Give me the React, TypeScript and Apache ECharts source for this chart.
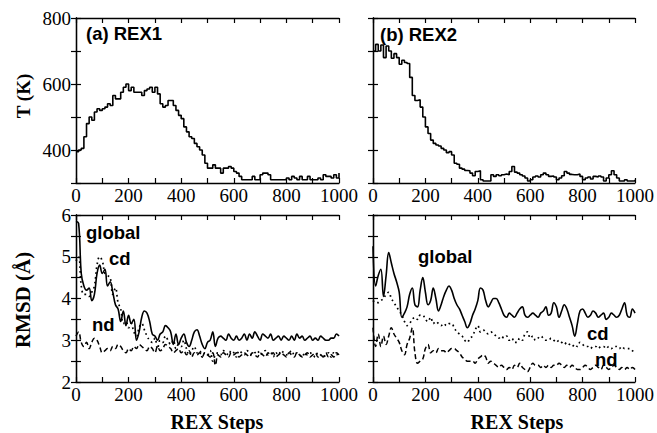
import React, { useEffect, useRef } from "react";
import * as echarts from "echarts";

// REX step sampling (x positions every 10 steps, 0..1000)
const STEP = 10;

// Temperature (K), replica exchange REX1 and REX2
const T_REX1 = [
  395, 400, 405, 440, 480, 500, 490, 515, 525, 520,
  525, 530, 540, 535, 565, 555, 555, 575, 590, 600,
  580, 590, 575, 575, 575, 565, 580, 585, 590, 575,
  590, 570, 540, 530, 535, 550, 550, 535, 520, 505,
  495, 470, 455, 440, 435, 420, 410, 400, 385, 360,
  345, 345, 355, 345, 345, 330, 345, 345, 350, 345,
  335, 330, 320, 310, 310, 310, 310, 320, 310, 310,
  325, 330, 330, 325, 310, 310, 310, 310, 310, 310,
  315, 310, 320, 315, 310, 320, 310, 310, 320, 310,
  310, 310, 315, 310, 325, 320, 320, 315, 325, 315, 330,
];
const T_REX2 = [
  700, 720, 700, 718, 680, 715, 700, 678, 692, 680,
  660, 672, 665, 662, 620, 565, 550, 552, 530, 500,
  470, 450, 430, 420, 415, 412, 405, 400, 392, 395,
  385, 360, 357, 345, 342, 338, 337, 330, 322, 335,
  337, 310, 306, 306, 306, 325, 320, 325, 322, 325,
  327, 325, 335, 350, 333, 330, 325, 321, 315, 306,
  310, 318, 321, 318, 325, 330, 325, 320, 321, 318,
  310, 315, 322, 335, 330, 326, 325, 325, 327, 320,
  310, 315, 318, 312, 320, 318, 321, 318, 306, 315,
  325, 337, 325, 315, 306, 306, 310, 306, 306, 306, 310,
];

// RMSD (Å) for REX1
const GLOBAL_REX1 = [
  5.85, 5.8, 4.6, 4.3, 4.2, 4.25, 3.95, 4.1, 4.6, 4.8,
  4.6, 4.7, 4.3, 4.4, 4.15, 3.85, 3.75, 3.45, 3.7, 3.35,
  3.6, 3.4, 3.5, 3.0, 3.2, 3.55, 3.7, 3.65, 3.45, 3.15,
  3.1, 3.0, 3.15, 3.2, 3.35, 3.3, 3.2, 2.9, 3.15, 2.9,
  3.05, 3.15, 2.95, 2.85, 3.0, 3.2, 3.25, 3.1, 2.9, 2.8,
  2.95, 3.0, 3.2, 2.85, 3.05, 3.1, 3.05, 3.0, 3.15, 3.05,
  3.0, 3.1, 3.0, 3.05, 3.15, 3.0, 3.15, 3.05, 3.2, 3.1,
  3.0, 3.15, 3.1, 3.05, 3.15, 3.0, 3.05, 3.1, 3.0, 3.1,
  3.05, 3.0, 3.1, 3.0, 3.15, 3.05, 3.1, 3.0, 3.05, 3.1,
  3.0, 3.05, 3.0, 3.1, 3.05, 3.0, 3.0, 3.05, 3.05, 3.15, 3.1,
];
const CD_REX1 = [
  4.9, 5.0, 4.3, 4.1, 4.1, 4.05, 4.15, 4.3, 4.8, 5.0,
  4.9, 4.6, 4.55, 4.5, 4.1, 4.25, 3.9, 3.75, 3.4, 3.45,
  3.3, 3.4, 3.2, 3.1, 3.3, 3.4, 3.25, 3.1, 3.0, 2.95,
  3.05, 2.8, 3.0, 2.95, 3.1, 3.0, 2.9, 3.0, 2.8, 2.9,
  2.85, 3.0, 2.8, 2.65, 2.75, 2.85, 2.7, 2.75, 2.6, 2.7,
  2.65, 2.75, 2.5, 2.65, 2.7, 2.65, 2.75, 2.7, 2.65, 2.75,
  2.7, 2.6, 2.75, 2.7, 2.65, 2.75, 2.7, 2.65, 2.7, 2.75,
  2.65, 2.7, 2.75, 2.65, 2.7, 2.6, 2.7, 2.65, 2.75, 2.7,
  2.65, 2.7, 2.75, 2.65, 2.7, 2.65, 2.6, 2.7, 2.65, 2.7,
  2.65, 2.6, 2.7, 2.65, 2.6, 2.65, 2.7, 2.6, 2.7, 2.65, 2.7,
];
const ND_REX1 = [
  3.1, 3.2, 2.95, 2.85, 2.95, 2.8, 2.95, 3.05, 3.0, 2.85,
  2.7, 2.75, 2.8, 2.75, 2.85, 2.8, 2.9, 2.85, 2.75, 2.7,
  2.8, 2.75, 2.85, 2.8, 2.9, 2.85, 2.8, 2.75, 2.85, 2.8,
  2.7, 2.85, 2.75, 2.8, 2.9, 2.85, 2.8, 2.7, 2.75, 2.8,
  2.7, 2.75, 2.65, 2.75, 2.6, 2.7, 2.65, 2.7, 2.6, 2.7,
  2.65, 2.6, 2.7, 2.4, 2.65, 2.6, 2.7, 2.65, 2.6, 2.7,
  2.65, 2.7, 2.6, 2.65, 2.7, 2.65, 2.6, 2.7, 2.65, 2.6,
  2.7, 2.65, 2.6, 2.7, 2.65, 2.7, 2.6, 2.65, 2.7, 2.65,
  2.6, 2.7, 2.65, 2.6, 2.7, 2.65, 2.6, 2.65, 2.7, 2.6,
  2.65, 2.7, 2.6, 2.65, 2.6, 2.7, 2.6, 2.65, 2.6, 2.7, 2.65,
];

// RMSD (Å) for REX2
const GLOBAL_REX2 = [
  5.25, 4.3, 4.55, 4.7, 4.05, 4.55, 5.1, 4.85, 4.6, 4.4,
  4.15, 3.55, 3.65, 3.8, 4.1, 4.25, 3.85, 3.8, 4.2, 4.5,
  4.15, 3.85, 3.95, 4.25, 4.0, 3.7, 3.85, 4.05, 4.2, 4.3,
  4.2, 4.0, 3.85, 3.75, 3.6, 3.45, 3.3, 3.4, 3.6, 3.75,
  3.95, 4.25, 4.2, 3.95, 3.8, 3.9, 4.0, 4.0, 3.9, 3.75,
  3.6, 3.55, 3.65, 3.6, 3.55, 3.65, 3.75, 3.8, 3.6, 3.55,
  3.6, 3.65, 3.6, 3.55, 3.65, 3.7, 3.8, 3.6, 3.65, 3.9,
  3.8, 3.55, 3.7, 3.85, 3.75, 3.55, 3.35, 3.1, 3.4, 3.7,
  3.75, 3.65, 3.55, 3.6, 3.7, 3.65, 3.55, 3.6, 3.65, 3.5,
  3.55, 3.65, 3.6, 3.55, 3.6, 3.75, 3.9, 3.6, 3.55, 3.75, 3.65,
];
const CD_REX2 = [
  3.95, 3.9, 3.9, 3.95, 4.0, 4.1, 4.15, 4.0, 3.9, 3.8,
  3.7, 3.6, 3.45, 3.35, 3.4, 3.5, 3.55, 3.5, 3.6, 3.6,
  3.5, 3.45, 3.55, 3.4, 3.45, 3.4, 3.35, 3.4, 3.35, 3.4,
  3.4, 3.3, 3.2, 3.15, 3.1, 3.0, 2.95, 3.05, 3.1, 3.25,
  3.35, 3.2, 3.25, 3.2, 3.15, 3.2, 3.15, 3.1, 3.05, 3.1,
  3.05, 3.1, 3.0, 3.05, 2.95, 2.95, 3.05, 3.0, 3.15, 3.2,
  3.05, 3.1, 3.0, 3.05, 3.1, 3.05, 3.0, 3.0, 3.05, 3.0,
  2.95, 3.0, 2.95, 2.9, 2.95, 2.9, 2.85, 2.9, 2.85, 2.95,
  2.9, 2.85, 2.85, 2.8, 2.85, 2.85, 2.8, 2.85, 2.85, 2.8,
  2.85, 2.8, 2.85, 2.85, 2.8, 2.85, 2.8, 2.8, 2.8, 2.75, 2.7,
];
const ND_REX2 = [
  3.3, 2.85, 3.15, 2.85, 3.1, 2.9, 3.1, 3.3, 3.15, 3.05,
  2.95, 2.75, 2.65, 2.9, 3.05, 3.3, 2.7, 2.45, 2.5, 2.55,
  2.8, 2.9, 2.7, 2.75, 2.7, 2.8, 2.75, 2.75, 2.7, 2.75,
  2.8, 2.8, 2.75, 2.7, 2.6, 2.55, 2.5, 2.5, 2.5, 2.45,
  2.55, 2.6, 2.65, 2.6, 2.45, 2.5, 2.45, 2.4, 2.35, 2.4,
  2.35, 2.3, 2.35, 2.3, 2.4, 2.35, 2.45, 2.35, 2.3, 2.25,
  2.35, 2.45, 2.4, 2.4, 2.35, 2.4, 2.35, 2.4, 2.35, 2.4,
  2.4, 2.45, 2.4, 2.35, 2.4, 2.35, 2.4, 2.35, 2.3, 2.3,
  2.35, 2.4, 2.35, 2.3, 2.35, 2.4, 2.35, 2.3, 2.4, 2.35,
  2.3, 2.35, 2.4, 2.35, 2.3, 2.35, 2.3, 2.35, 2.3, 2.35, 2.3,
];

const X_LABELS = [0, 200, 400, 600, 800, 1000];
const T_LABELS = [400, 600, 800];
const RMSD_LABELS = [2, 3, 4, 5, 6];

const SERIF = "'Liberation Serif', 'Times New Roman', serif";
const SANS = "'Liberation Sans', Arial, Helvetica, sans-serif";

const toPairs = (vals: number[]) => vals.map((v, i) => [i * STEP, v]);

function buildOption() {
  const grids = [
    { left: 76, top: 18, width: 263, height: 165 },
    { left: 373, top: 18, width: 264, height: 165 },
    { left: 76, top: 215, width: 263, height: 167 },
    { left: 373, top: 215, width: 264, height: 167 },
  ];
  const axisLine = { show: true, lineStyle: { color: "#000", width: 1.3 } };
  const tick = { show: true, inside: true, length: 5, lineStyle: { color: "#000", width: 1.2 } };
  const labelStyle = { color: "#000", fontFamily: SERIF, fontSize: 19 };

  const xAxis: any[] = [];
  const yAxis: any[] = [];
  grids.forEach((_, i) => {
    const base = { type: "value", gridIndex: i, min: 0, max: 1000, interval: 100, splitLine: { show: false }, axisLine, axisTick: tick };
    xAxis.push({
      ...base,
      position: "bottom",
      axisLabel: {
        ...labelStyle,
        margin: 3,
        showMinLabel: true,
        showMaxLabel: true,
        formatter: (v: number) => (X_LABELS.includes(v) ? String(v) : ""),
      },
    });
    xAxis.push({ ...base, position: "top", axisLabel: { show: false } });
    const isT = i < 2;
    const yBase = isT
      ? { min: 300, max: 800, interval: 100 }
      : { min: 2, max: 6, interval: 0.5 };
    const labels = isT ? T_LABELS : RMSD_LABELS;
    const showLabels = i === 0 || i === 2;
    yAxis.push({
      type: "value",
      gridIndex: i,
      ...yBase,
      position: "left",
      splitLine: { show: false },
      axisLine,
      axisTick: tick,
      axisLabel: showLabels
        ? {
            ...labelStyle,
            margin: 5,
            showMinLabel: true,
            showMaxLabel: true,
            formatter: (v: number) => (labels.includes(v) ? String(v) : ""),
          }
        : { show: false },
    });
    yAxis.push({
      type: "value",
      gridIndex: i,
      ...yBase,
      position: "right",
      splitLine: { show: false },
      axisLine,
      axisTick: tick,
      axisLabel: { show: false },
    });
  });

  const lineBase = { type: "line", showSymbol: false, symbol: "none", silent: true };
  const solid = { color: "#000", width: 1.6, type: "solid" };
  const dotted = { color: "#000", width: 1.7, type: [1.7, 3.2] };
  const dashed = { color: "#000", width: 1.5, type: [5, 3] };

  const series: any[] = [
    { ...lineBase, name: "T REX1", xAxisIndex: 0, yAxisIndex: 0, step: "end", data: toPairs(T_REX1), lineStyle: solid },
    { ...lineBase, name: "T REX2", xAxisIndex: 2, yAxisIndex: 2, step: "end", data: toPairs(T_REX2), lineStyle: solid },
    { ...lineBase, name: "global REX1", xAxisIndex: 4, yAxisIndex: 4, smooth: 0.4, data: toPairs(GLOBAL_REX1), lineStyle: solid },
    { ...lineBase, name: "cd REX1", xAxisIndex: 4, yAxisIndex: 4, smooth: 0.4, data: toPairs(CD_REX1), lineStyle: dotted },
    { ...lineBase, name: "nd REX1", xAxisIndex: 4, yAxisIndex: 4, smooth: 0.4, data: toPairs(ND_REX1), lineStyle: dashed },
    { ...lineBase, name: "global REX2", xAxisIndex: 6, yAxisIndex: 6, smooth: 0.4, data: toPairs(GLOBAL_REX2), lineStyle: solid },
    { ...lineBase, name: "cd REX2", xAxisIndex: 6, yAxisIndex: 6, smooth: 0.4, data: toPairs(CD_REX2), lineStyle: dotted },
    { ...lineBase, name: "nd REX2", xAxisIndex: 6, yAxisIndex: 6, smooth: 0.4, data: toPairs(ND_REX2), lineStyle: dashed },
  ];

  const sansText = (text: string, x: number, y: number) => ({
    type: "text",
    x,
    y,
    silent: true,
    style: { text, fill: "#000", font: `bold 18.5px ${SANS}`, textAlign: "left", textVerticalAlign: "middle" },
  });
  const serifTitle = (text: string, x: number, y: number, rotate: boolean, size: number) => ({
    type: "text",
    x,
    y,
    rotation: rotate ? Math.PI / 2 : 0,
    silent: true,
    style: { text, fill: "#000", font: `bold ${size}px ${SERIF}`, textAlign: "center", textVerticalAlign: "middle" },
  });

  const graphic = [
    sansText("(a) REX1", 86, 33),
    sansText("(b) REX2", 380, 34),
    sansText("global", 86, 232),
    sansText("cd", 109, 258),
    sansText("nd", 92, 324),
    sansText("global", 418, 256),
    sansText("cd", 587, 333),
    sansText("nd", 595, 359),
    serifTitle("T (K)", 23, 96, true, 19),
    serifTitle("RMSD (Å)", 23, 300, true, 21),
    serifTitle("REX Steps", 217, 422, false, 20),
    serifTitle("REX Steps", 517, 422, false, 20),
  ];

  return {
    animation: false,
    backgroundColor: "#fff",
    grid: grids,
    xAxis,
    yAxis,
    series,
    graphic,
  };
}

export default function App() {
  const ref = useRef<HTMLDivElement>(null);
  useEffect(() => {
    if (!ref.current) return;
    const chart = echarts.init(ref.current, null, { renderer: "svg" });
    chart.setOption(buildOption() as any);
    return () => chart.dispose();
  }, []);
  return (
    <div
      ref={ref}
      style={{ position: "fixed", left: 0, top: 0, width: 657, height: 433, background: "#fff" }}
    />
  );
}
